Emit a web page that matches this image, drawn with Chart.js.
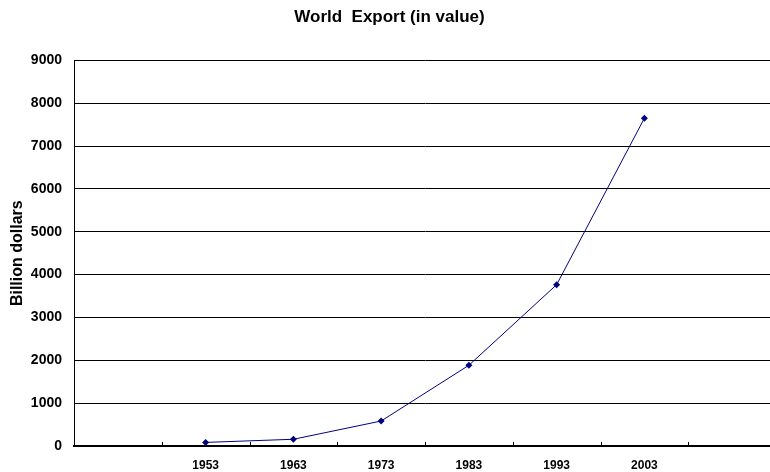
<!DOCTYPE html>
<html>
<head>
<meta charset="utf-8">
<script src="https://cdn.jsdelivr.net/npm/chart.js@4.4.0/dist/chart.umd.min.js"></script>
<style>
    html, body { margin: 0; padding: 0; background: #fff; overflow: hidden; }
    #wrap { width: 780px; height: 472px; position: relative; }
</style>
</head>
<body>
<div id="wrap"><canvas id="exportChart"></canvas></div>
<script>
// Categories (empty slot on each side, as in the original)
const years = ['', '1953', '1963', '1973', '1983', '1993', '2003', ''];
// World export value, billion dollars
const exportValues = [null, 84, 157, 583, 1884, 3765, 7650, null];
const yTicks = [0, 1000, 2000, 3000, 4000, 5000, 6000, 7000, 8000, 9000];

// Small inward tick marks on the x axis, between categories
const innerTicks = {
    id: 'innerTicks',
    afterDraw(chart) {
        const x = chart.scales.x;
        const ctx = chart.ctx;
        const bottom = chart.chartArea.bottom;
        ctx.save();
        ctx.strokeStyle = '#000';
        ctx.lineWidth = 1;
        ctx.beginPath();
        for (let i = 1; i < years.length; i++) {
            const px = Math.round((x.getPixelForValue(i - 1) + x.getPixelForValue(i)) / 2) + 0.5;
            ctx.moveTo(px, bottom);
            ctx.lineTo(px, bottom - 4);
        }
        ctx.stroke();
        ctx.restore();
    }
};

document.addEventListener('DOMContentLoaded', function() {
    const ctx = document.getElementById('exportChart').getContext('2d');
    new Chart(ctx, {
        type: 'line',
        data: {
            labels: years,
            datasets: [{
                label: 'World Export',
                data: exportValues,
                borderColor: '#000080',
                backgroundColor: '#000080',
                borderWidth: 1,
                pointStyle: 'rectRot',
                pointRadius: 3.5,
                pointBorderWidth: 0,
                tension: 0,
                fill: false
            }]
        },
        options: {
            responsive: true,
            maintainAspectRatio: false,
            animation: false,
            layout: { padding: { left: 0, right: 1, top: 0, bottom: 0 } },
            plugins: {
                legend: { display: false },
                tooltip: { enabled: false },
                title: {
                    display: true,
                    text: 'World  Export (in value)',
                    color: '#000',
                    font: { family: 'Liberation Sans', size: 17, weight: 'bold' },
                    padding: { top: 7, bottom: 33 }
                }
            },
            scales: {
                x: {
                    offset: true,
                    grid: { display: false, offset: true },
                    border: { color: '#000', width: 2 },
                    ticks: {
                        color: '#000',
                        padding: 4,
                        maxRotation: 0,
                        autoSkip: false,
                        font: { family: 'Liberation Sans', size: 12, weight: 'bold' }
                    },
                    afterFit(scale) { scale.height = 26; }
                },
                y: {
                    min: 0,
                    max: 9000,
                    afterBuildTicks(scale) { scale.ticks = yTicks.map(v => ({ value: v })); },
                    grid: { color: '#000', lineWidth: 1, drawTicks: false },
                    border: { color: '#000', width: 1 },
                    ticks: {
                        color: '#000',
                        padding: 12,
                        font: { family: 'Liberation Sans', size: 14, weight: 'bold' },
                        callback: function(value) { return String(value); }
                    },
                    title: {
                        display: true,
                        text: 'Billion dollars',
                        color: '#000',
                        font: { family: 'Liberation Sans', size: 16, weight: 'bold' },
                        padding: { top: 8, bottom: 0 }
                    },
                    afterFit(scale) { scale.width = 74; }
                }
            }
        },
        plugins: [innerTicks]
    });
});
</script>
</body>
</html>
